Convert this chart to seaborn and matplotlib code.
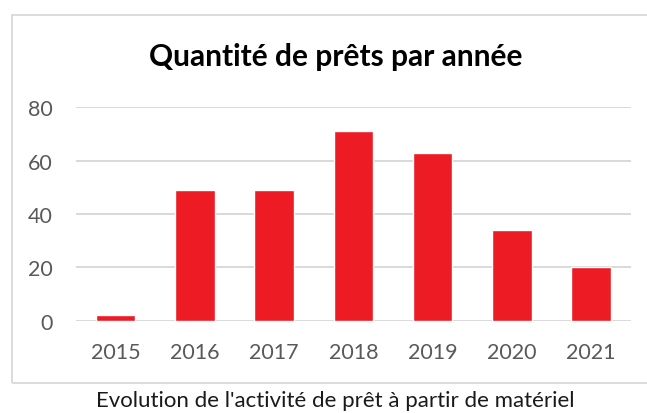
import matplotlib
matplotlib.use("Agg")
import matplotlib.pyplot as plt
import seaborn as sns
import pandas as pd
from matplotlib.patches import Rectangle

years = ["2015", "2016", "2017", "2018", "2019", "2020", "2021"]
loans = [2, 49, 49, 71, 63, 34, 20]
yticks = [0, 20, 40, 60, 80]
title = "Quantité de prêts par année"
caption = "Evolution de l'activité de prêt à partir de matériel"

sns.set_theme(style="white")
plt.rcParams["font.family"] = ["Lato", "DejaVu Sans"]

df = pd.DataFrame({"year": years, "loans": loans})

fig = plt.figure(figsize=(6.47, 4.14), dpi=100)
fig.patch.set_facecolor("white")
ax = fig.add_axes([0.1175, 0.2229, 0.9747 - 0.1175, 0.5155])

sns.barplot(data=df, x="year", y="loans", color="#ED1C24", width=0.5,
            saturation=1, ax=ax, zorder=3)

ax.set_ylim(0, 80)
ax.set_yticks(yticks)
ax.set_xlim(-0.5, len(years) - 0.5)
ax.grid(axis="y", color="#D9D9D9", linewidth=1.4, zorder=0)
ax.set_axisbelow(True)
for s in ax.spines.values():
    s.set_visible(False)
ax.set_xlabel("")
ax.set_ylabel("")
ax.tick_params(axis="both", length=0, labelsize=15.5, labelcolor="#595959")
ax.tick_params(axis="y", pad=17)
ax.tick_params(axis="x", pad=15)

fig.text(335.6 / 647, 1 - 57 / 414, title, ha="center", va="center",
         fontsize=21.5, fontweight="bold", color="black")
fig.text(335.6 / 647, 1 - 401 / 414, caption, ha="center", va="center",
         fontsize=16, color="#1a1a1a")

fig.patches.append(Rectangle((11.5 / 647, 1 - 384 / 414), (680 - 11.5) / 647,
                             (384 - 16) / 414, transform=fig.transFigure,
                             fill=False, edgecolor="#D9D9D9", linewidth=1.3))

fig.savefig("out.png", dpi=100)
